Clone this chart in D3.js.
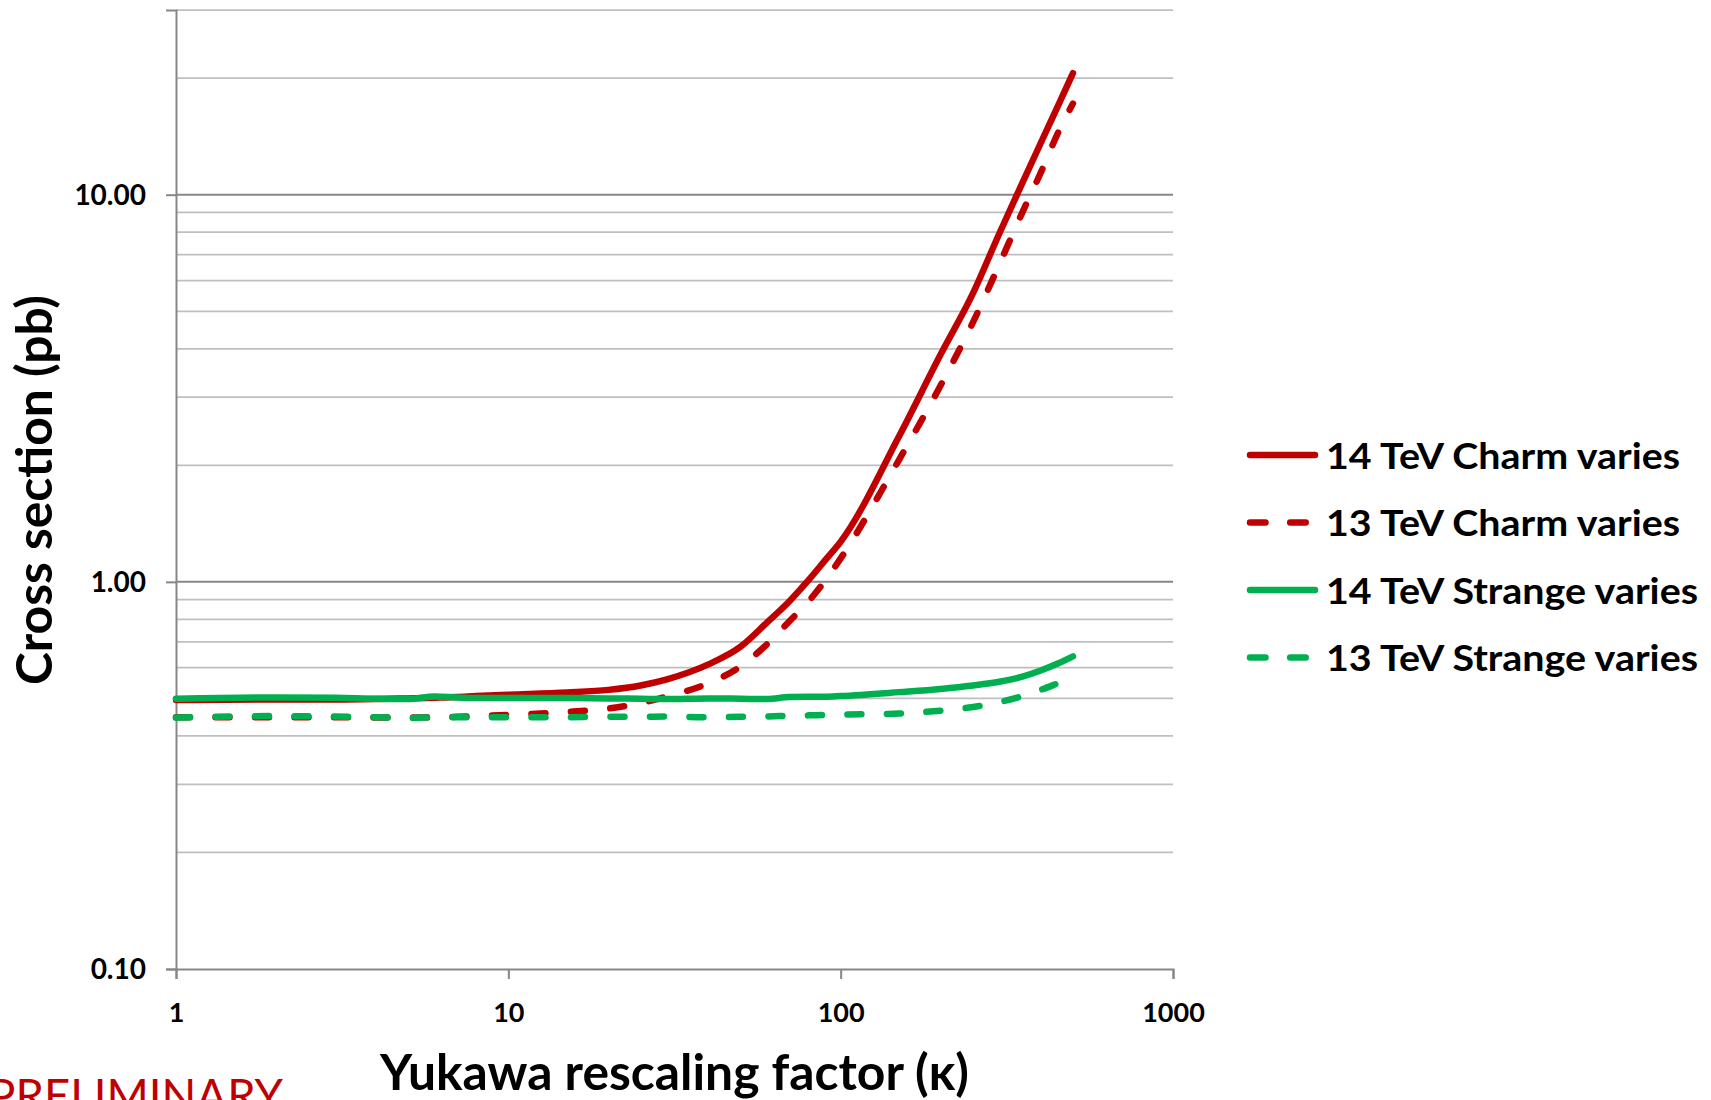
<!DOCTYPE html>
<html>
<head>
<meta charset="utf-8">
<script src="https://cdn.jsdelivr.net/npm/d3@7"></script>
<style>
  html, body { margin: 0; padding: 0; background: #ffffff; }
  svg { display: block; }
  text { font-family: Lato, "Open Sans", sans-serif; }
</style>
</head>
<body>
<svg id="chart" width="1711" height="1100"></svg>
<script>
// Yukawa rescaling factor (kappa) sample points
const kappa = [1, 2, 3, 4, 5, 6, 7, 8, 10, 15, 20, 25, 30, 40, 50, 60, 70, 80, 90, 100,
               150, 200, 250, 300, 350, 400, 450, 500];

// Cross sections in pb
const charm14 = [0.495, 0.497, 0.497, 0.498, 0.500, 0.502, 0.504, 0.507, 0.511, 0.518, 0.526, 0.540,
                 0.560, 0.612, 0.680, 0.785, 0.890, 1.010, 1.140, 1.270,
                 2.38, 3.87, 5.56, 7.93, 10.6, 13.6, 16.9, 20.6];
const charm13 = [0.447, 0.447, 0.447, 0.446, 0.446, 0.447, 0.448, 0.450, 0.453, 0.461, 0.471, 0.486,
                 0.506, 0.547, 0.605, 0.690, 0.790, 0.890, 1.010, 1.150,
                 2.07, 3.22, 4.68, 6.60, 8.90, 11.4, 14.4, 17.2];
const strange14 = [0.499, 0.503, 0.502, 0.499, 0.498, 0.506, 0.503, 0.501, 0.501, 0.501, 0.500, 0.499,
                   0.498, 0.500, 0.499, 0.498, 0.504, 0.505, 0.505, 0.507,
                   0.519, 0.529, 0.540, 0.552, 0.568, 0.590, 0.615, 0.642];
const strange13 = [0.446, 0.450, 0.449, 0.447, 0.445, 0.447, 0.447, 0.447, 0.447, 0.447, 0.448, 0.448,
                   0.449, 0.447, 0.448, 0.449, 0.451, 0.452, 0.453, 0.454,
                   0.457, 0.465, 0.475, 0.489, 0.506, 0.526, 0.547, 0.567];

const seriesNames = ["14 TeV Charm varies", "13 TeV Charm varies",
                     "14 TeV Strange varies", "13 TeV Strange varies"];
const seriesValues = [charm14, charm13, strange14, strange13];
const seriesColors = ["#c00000", "#c00000", "#00b050", "#00b050"];
const seriesDashed = [false, true, false, true];

const xTicks = [1, 10, 100, 1000];
const yTicks = [0.1, 1, 10];
const yGrid = [0.2, 0.3, 0.4, 0.5, 0.6, 0.7, 0.8, 0.9, 1, 2, 3, 4, 5, 6, 7, 8, 9, 10, 20, 30];

const svg = d3.select("#chart");
svg.append("rect").attr("width", 1711).attr("height", 1100).attr("fill", "#ffffff");

const x = d3.scaleLog().domain([1, 1000]).range([176, 1173]);
const y = d3.scaleLog().domain([0.1, 30]).range([969, 10]);

// horizontal gridlines
svg.append("g").selectAll("line").data(yGrid).join("line")
  .attr("x1", x.range()[0]).attr("x2", x.range()[1])
  .attr("y1", d => y(d)).attr("y2", d => y(d))
  .attr("stroke", d => (d === 1 || d === 10) ? "#878787" : "#bfbfbf")
  .attr("stroke-width", d => (d === 1 || d === 10) ? 2 : 1.75);

// y axis
const yAxis = d3.axisLeft(y).tickValues(yTicks).tickFormat(d3.format(".2f"))
  .tickSize(10).tickPadding(20);
const gy = svg.append("g").attr("transform", `translate(${x.range()[0]},0)`).call(yAxis);
gy.select(".domain").attr("stroke", "#878787").attr("stroke-width", 2);
gy.selectAll(".tick line").attr("stroke", "#878787").attr("stroke-width", 2);
gy.selectAll(".tick text")
  .attr("font-family", "Lato").attr("font-weight", 700).attr("font-size", 28)
  .attr("fill", "#000").attr("dy", "0.35em");

// x axis
const xAxis = d3.axisBottom(x).tickValues(xTicks).tickFormat(d3.format("d"))
  .tickSize(10).tickPadding(24);
const gx = svg.append("g").attr("transform", `translate(0,${y.range()[0]})`).call(xAxis);
gx.select(".domain").attr("stroke", "#878787").attr("stroke-width", 2);
gx.selectAll(".tick line").attr("stroke", "#878787").attr("stroke-width", 2);
gx.selectAll(".tick text")
  .attr("font-family", "Lato").attr("font-weight", 700).attr("font-size", 27)
  .attr("fill", "#000").attr("dy", "0.71em");

// series lines
const line = d3.line()
  .x(d => x(d[0])).y(d => y(d[1]))
  .curve(d3.curveMonotoneX);

seriesValues.forEach((vals, i) => {
  svg.append("path")
    .datum(kappa.map((k, j) => [k, vals[j]]))
    .attr("d", line)
    .attr("fill", "none")
    .attr("stroke", seriesColors[i])
    .attr("stroke-width", 6.5)
    .attr("stroke-linecap", "round")
    .attr("stroke-linejoin", "round")
    .attr("stroke-dasharray", seriesDashed[i] ? "14,25.5" : null);
});

// legend
const legend = svg.append("g");
const legendY = [455, 522.5, 590, 657.5];
const legendWidths = [354, 354, 372, 372];
seriesNames.forEach((name, i) => {
  legend.append("line")
    .attr("x1", 1250).attr("x2", 1315)
    .attr("y1", legendY[i]).attr("y2", legendY[i])
    .attr("stroke", seriesColors[i]).attr("stroke-width", 6.5)
    .attr("stroke-linecap", "round")
    .attr("stroke-dasharray", seriesDashed[i] ? "15.5,24.7" : null);
  legend.append("text")
    .attr("x", 1326).attr("y", legendY[i] + 13.5)
    .attr("font-family", "Lato").attr("font-weight", 700).attr("font-size", 37)
    .attr("textLength", legendWidths[i]).attr("lengthAdjust", "spacingAndGlyphs")
    .attr("fill", "#000").text(name);
});

// axis titles
svg.append("text")
  .attr("transform", "translate(52,490) rotate(-90)")
  .attr("text-anchor", "middle")
  .attr("font-family", "Lato").attr("font-weight", 700).attr("font-size", 49)
  .attr("textLength", 390).attr("lengthAdjust", "spacingAndGlyphs")
  .attr("fill", "#000").text("Cross section (pb)");

svg.append("text")
  .attr("x", 674.5).attr("y", 1090)
  .attr("text-anchor", "middle")
  .attr("font-family", "Lato").attr("font-weight", 700).attr("font-size", 49)
  .attr("textLength", 589).attr("lengthAdjust", "spacingAndGlyphs")
  .attr("fill", "#000").text("Yukawa rescaling factor (κ)");

// draft marker along the bottom edge
svg.append("text")
  .attr("x", -12).attr("y", 1112)
  .attr("font-family", "Lato").attr("font-weight", 400).attr("font-size", 47)
  .attr("textLength", 295).attr("lengthAdjust", "spacingAndGlyphs")
  .attr("fill", "#c00000").text("PRELIMINARY");
</script>
</body>
</html>
